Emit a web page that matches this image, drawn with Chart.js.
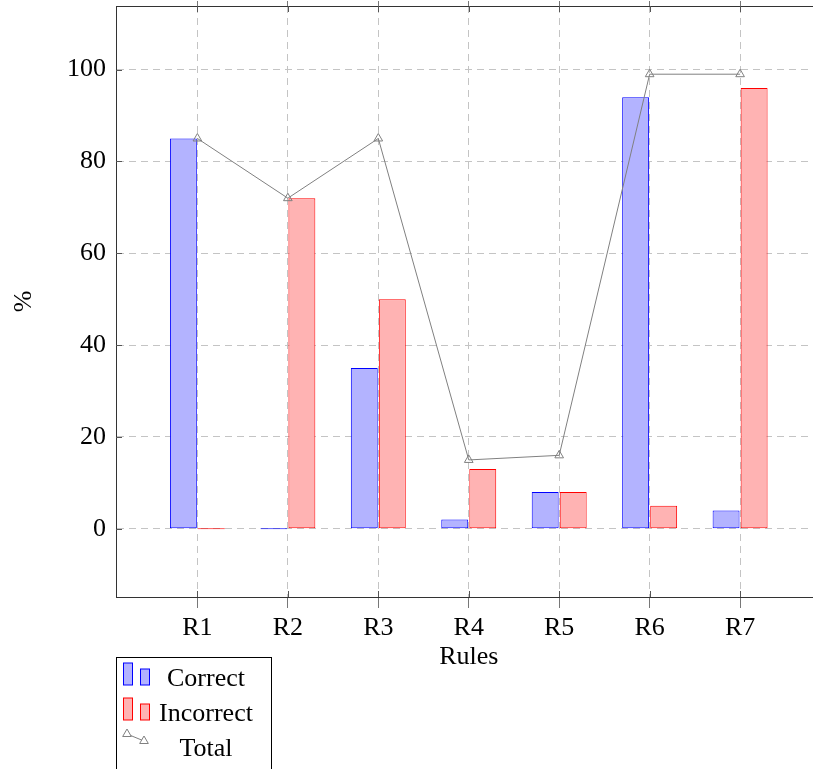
<!DOCTYPE html>
<html><head><meta charset="utf-8">
<script src="https://cdn.jsdelivr.net/npm/chart.js@4.4.1/dist/chart.umd.min.js"></script>
<style>html,body{margin:0;padding:0;overflow:hidden;background:#fff;width:813px;height:769px}</style>
</head><body>
<canvas id="c" width="830" height="769" style="display:block;width:830px;height:769px"></canvas>
<script>
const categories = ['R1','R2','R3','R4','R5','R6','R7'];
const correct = [85, 0, 35, 2, 8, 94, 4];
const incorrect = [0, 72, 50, 13, 8, 5, 96];
const total = [85, 72, 85, 15, 16, 99, 99];
const yTicks = [0, 20, 40, 60, 80, 100];
const xPos = categories.map((c, i) => i + 1);

const FAMILY = "'Liberation Serif', 'Times New Roman', serif";
const font = { family: FAMILY, size: 26 };
const GRID = '#c4c4c4';
const AXIS = '#333';
const TICK = '#777';

const pts = arr => arr.map((v, i) => ({ x: xPos[i], y: v }));

const innerTicks = {
  id: 'innerTicks',
  afterDraw(chart) {
    const { ctx, chartArea: a, scales } = chart;
    ctx.save();
    ctx.strokeStyle = '#555';
    ctx.lineWidth = 1;
    ctx.beginPath();
    scales.y.ticks.forEach(t => {
      const y = Math.round(scales.y.getPixelForValue(t.value)) + 0.5;
      ctx.moveTo(a.left, y); ctx.lineTo(a.left + 6, y);
    });
    scales.x.ticks.forEach(t => {
      const x = Math.round(scales.x.getPixelForValue(t.value)) + 0.5;
      ctx.moveTo(x, a.bottom); ctx.lineTo(x, a.bottom - 6);
      ctx.moveTo(x, a.top); ctx.lineTo(x, a.top + 6);
    });
    ctx.stroke();
    ctx.restore();
  }
};

const boxLegend = {
  id: 'boxLegend',
  afterDraw(chart) {
    const ctx = chart.ctx;
    const left = chart.chartArea.left;
    const ds = chart.data.datasets;
    ctx.save();
    ctx.fillStyle = '#fff';
    ctx.fillRect(left + 0.5, 657.5, 155, 130);
    ctx.strokeStyle = '#000';
    ctx.lineWidth = 1;
    ctx.strokeRect(left + 0.5, 657.5, 155, 130);
    const rows = [678, 713, 748];
    ds.forEach((d, i) => {
      const cy = rows[i];
      if (d.type === 'line') {
        const p1 = [left + 11, cy - 14], p2 = [left + 28, cy - 7];
        ctx.strokeStyle = d.borderColor;
        ctx.lineWidth = 1;
        ctx.beginPath(); ctx.moveTo(p1[0], p1[1]); ctx.lineTo(p2[0], p2[1]); ctx.stroke();
        [p1, p2].forEach(p => {
          const r = 5;
          ctx.beginPath();
          ctx.moveTo(p[0], p[1] - r);
          ctx.lineTo(p[0] + r * 0.866, p[1] + r * 0.5);
          ctx.lineTo(p[0] - r * 0.866, p[1] + r * 0.5);
          ctx.closePath();
          ctx.fillStyle = '#fff';
          ctx.fill();
          ctx.stroke();
        });
      } else {
        ctx.fillStyle = d.backgroundColor;
        ctx.strokeStyle = d.borderColor;
        ctx.lineWidth = 1;
        [[left + 7.5, cy - 15, 9, 22], [left + 24.5, cy - 9, 9, 16]].forEach(b => {
          ctx.fillRect(b[0], b[1], b[2], b[3]);
          ctx.strokeRect(b[0], b[1], b[2], b[3]);
        });
      }
      ctx.fillStyle = '#000';
      ctx.font = `26px ${FAMILY}`;
      ctx.textAlign = 'center';
      ctx.textBaseline = 'middle';
      ctx.fillText(d.label, left + 90, cy + 1);
    });
    ctx.restore();
  }
};

new Chart(document.getElementById('c'), {
  data: {
    datasets: [
      { type: 'bar', label: 'Correct', data: pts(correct), backgroundColor: 'rgb(179,179,255)', borderColor: '#0000ff', borderWidth: 1, borderSkipped: false, minBarLength: 1, categoryPercentage: 0.62, barPercentage: 0.96, order: 1 },
      { type: 'bar', label: 'Incorrect', data: pts(incorrect), backgroundColor: 'rgb(255,179,179)', borderColor: '#ff0000', borderWidth: 1, borderSkipped: false, minBarLength: 1, categoryPercentage: 0.62, barPercentage: 0.96, order: 1 },
      { type: 'line', label: 'Total', data: pts(total), borderColor: '#808080', borderWidth: 1, pointStyle: 'triangle', pointRadius: 5, pointBorderWidth: 1, pointBorderColor: '#808080', pointBackgroundColor: 'rgba(255,255,255,0)', fill: false, tension: 0, order: 0 }
    ]
  },
  options: {
    responsive: false,
    animation: false,
    devicePixelRatio: 1,
    layout: { padding: { left: 0, top: 0, right: 8.5, bottom: 0 } },
    plugins: { legend: { display: false }, tooltip: { enabled: false } },
    scales: {
      x: {
        type: 'linear', position: 'bottom', min: 0.1, max: 7.9, offset: false,
        afterBuildTicks: s => { s.ticks = xPos.map(v => ({ value: v })); },
        afterFit: s => { s.height = 172; s.paddingLeft = 0; s.paddingRight = 0; },
        ticks: { callback: (v, i) => categories[i], font, color: '#000', padding: 5, maxRotation: 0, autoSkip: false },
        grid: { offset: false, color: GRID, lineWidth: 1, tickLength: 11, tickColor: TICK, tickWidth: 1 },
        border: { display: true, color: AXIS, width: 1, dash: [7, 5] },
        title: { display: true, text: 'Rules', font, color: '#000', padding: { top: 0, bottom: 96 } }
      },
      x2: {
        type: 'linear', position: 'top', min: 0.1, max: 7.9, offset: false,
        afterBuildTicks: s => { s.ticks = xPos.map(v => ({ value: v })); },
        afterFit: s => { s.height = 5; s.paddingLeft = 0; s.paddingRight = 0; },
        ticks: { display: false },
        grid: { offset: false, drawOnChartArea: false, tickLength: 5, tickColor: TICK },
        border: { display: true, color: AXIS, width: 1 }
      },
      y: {
        type: 'linear', position: 'left', min: -14.85, max: 113.85,
        afterBuildTicks: s => { s.ticks = yTicks.map(v => ({ value: v })); },
        afterFit: s => { s.width = 116; s.paddingTop = 0; s.paddingBottom = 0; },
        ticks: { font, color: '#000', padding: 10 },
        grid: { color: GRID, lineWidth: 1, drawTicks: false },
        border: { display: true, color: AXIS, width: 1, dash: [7, 5] },
        title: { display: true, text: '%', font, color: '#000', padding: { top: 9, bottom: 0 } }
      }
    }
  },
  plugins: [innerTicks, boxLegend]
});
</script>
</body></html>
